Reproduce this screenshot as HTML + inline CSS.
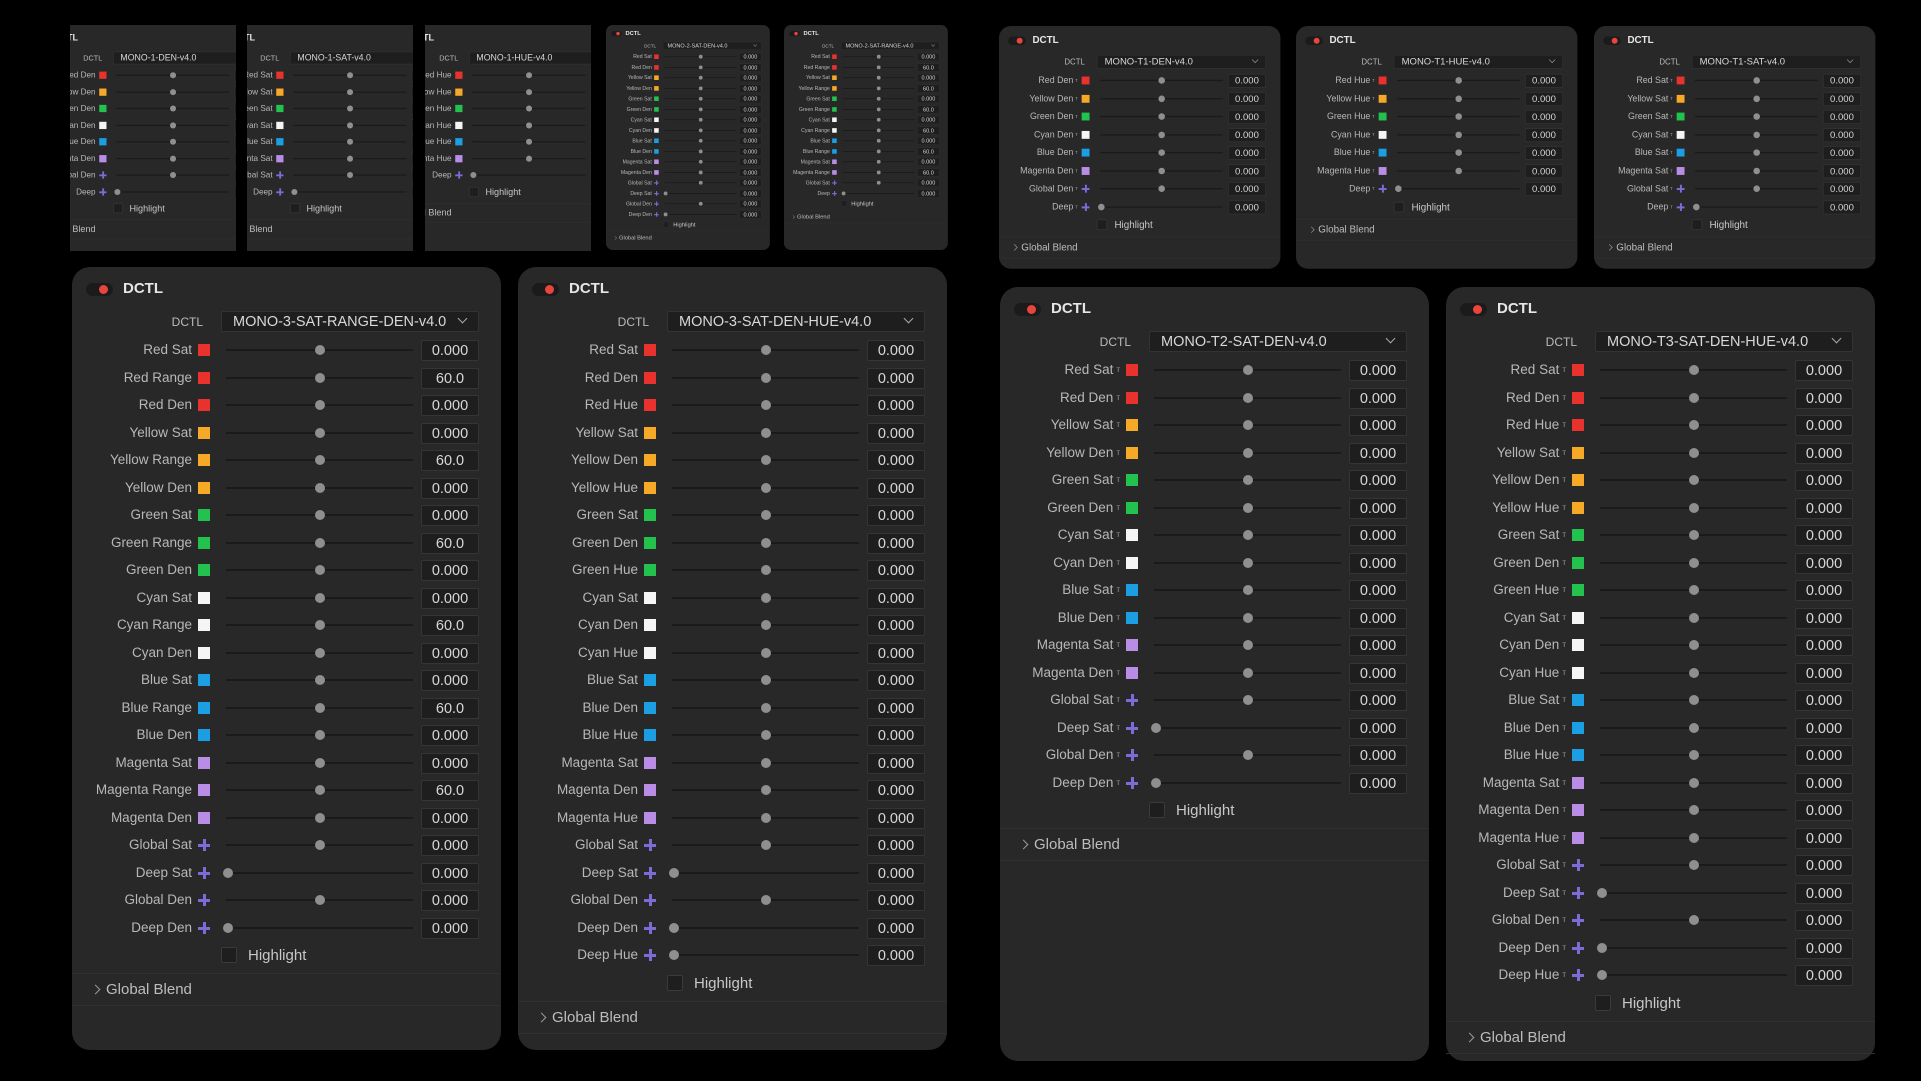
<!DOCTYPE html>
<html><head><meta charset="utf-8">
<style>
html,body{margin:0;padding:0;background:#000;width:1921px;height:1081px;overflow:hidden;}
body{position:relative;font-family:"Liberation Sans","DejaVu Sans",sans-serif;}
.clip{position:absolute;overflow:hidden;}
.p{position:absolute;width:429px;background:#282828;border-radius:18px;transform-origin:0 0;}
.p *{position:absolute;}
.tg{left:14px;top:16px;width:27px;height:13px;border-radius:7px;background:#1b1b1b;}
.tg i{left:13px;top:2px;width:9px;height:9px;border-radius:50%;background:#e8453c;}
.tt{left:51px;top:13px;font-size:15px;font-weight:bold;color:#e6e6e6;}
.dl{right:298px;top:48px;font-size:12px;color:#bbb;}
.dd{left:149px;top:44px;width:258px;height:21px;background:#1e1e1e;border:1px solid #333;box-sizing:border-box;border-radius:2px;}
.dd span{left:11px;top:2px;font-size:14.5px;color:#d8d8d8;white-space:nowrap;}
.dd b{right:12px;top:3px;width:6px;height:6px;border-right:1px solid #aaa;border-bottom:1px solid #aaa;transform:rotate(45deg);}
.lb{right:309px;font-size:13.5px;color:#b8b8b8;white-space:nowrap;text-align:right;}
.lb sup{position:static;font-size:8px;margin-left:3px;color:#999;vertical-align:2px;}
.sw{left:126px;width:12px;height:12px;}
.pl{left:125px;width:14px;height:14px;}
.pl:before{content:"";position:absolute;left:6px;top:1px;width:3px;height:12px;background:#7d6bd8;}
.pl:after{content:"";position:absolute;left:1px;top:6px;width:12px;height:3px;background:#7d6bd8;}
.tr{left:154px;width:187px;height:2px;background:#1a1a1a;}
.kn{width:10px;height:10px;border-radius:50%;background:#8f8f8f;}
.vb{left:349px;width:58px;height:21px;background:#1e1e1e;border:1px solid #353535;box-sizing:border-box;border-radius:2px;font-size:14.5px;color:#d8d8d8;text-align:center;line-height:20px;}
.cb{width:14px;height:14px;background:#1e1e1e;border:1px solid #3a3a3a;border-radius:2px;}
.hl{font-size:15px;color:#c8c8c8;}
.sep{left:0;width:429px;height:1px;background:#303030;}
.gb{left:34px;font-size:15px;color:#bdbdbd;}
.ch{left:20px;width:6px;height:6px;border-right:1px solid #999;border-top:1px solid #999;transform:rotate(45deg);}
</style></head><body>
<div id="root"></div>
<script>
var C={Red:'#e8322e',Yellow:'#f5a927',Green:'#23c24e',Cyan:'#f5f5f5',Blue:'#1b9fe2',Magenta:'#b98ce6',Global:'+',Deep:'+'};
function rows(suf,extra){var r=[];['Red','Yellow','Green','Cyan','Blue','Magenta'].forEach(function(c){suf.forEach(function(s){r.push([c+' '+s,C[c],s=='Range'?'60.0':'0.000',0]);});});return r.concat(extra);}
function g(n,deep){return [n,'+', '0.000',deep?1:0];}
function panel(o){
 var h='<div class="p" style="left:'+o.x+'px;top:'+o.y+'px;height:'+o.h+'px;transform:scale('+o.s+');'+(o.sq?'border-radius:0;':'')+'">';
 h+='<div class="tg"><i></i></div><div class="tt">DCTL</div><div class="dl">DCTL</div><div class="dd"><span>'+o.n+'</span><b></b></div>';
 var pitch=27.5,y0=83;
 o.r.forEach(function(r,i){var cy=y0+i*pitch;
  h+='<div class="lb" style="top:'+(cy-8)+'px">'+r[0]+(o.t?'<sup>т</sup>':'')+'</div>';
  if(r[1]=='+')h+='<div class="pl" style="top:'+(cy-7)+'px"></div>';else h+='<div class="sw" style="top:'+(cy-6)+'px;background:'+r[1]+'"></div>';
  h+='<div class="tr" style="top:'+(cy-1)+'px"></div>';
  h+='<div class="kn" style="left:'+(r[3]?151:243)+'px;top:'+(cy-5)+'px"></div>';
  h+='<div class="vb" style="top:'+(cy-10)+'px">'+r[2]+'</div>';
 });
 var hy=y0+o.r.length*pitch;
 h+='<div class="cb" style="left:149px;top:'+(hy-8)+'px"></div><div class="hl" style="left:176px;top:'+(hy-8)+'px">Highlight</div>';
 h+='<div class="sep" style="top:'+(hy+18)+'px"></div><div class="ch" style="top:'+(hy+31)+'px"></div><div class="gb" style="top:'+(hy+26)+'px">Global Blend</div><div class="sep" style="top:'+(hy+50)+'px"></div>';
 return h+'</div>';
}
var H='';
var I=rows(['Sat','Range','Den'],[g('Global Sat'),g('Deep Sat',1),g('Global Den'),g('Deep Den',1)]);
var J=rows(['Sat','Den','Hue'],[g('Global Sat'),g('Deep Sat',1),g('Global Den'),g('Deep Den',1),g('Deep Hue',1)]);
var K=rows(['Sat','Den'],[g('Global Sat'),g('Deep Sat',1),g('Global Den'),g('Deep Den',1)]);
H+=panel({x:72,y:267,h:783,s:1,n:'MONO-3-SAT-RANGE-DEN-v4.0',r:I});
H+=panel({x:518,y:267,h:783,s:1,n:'MONO-3-SAT-DEN-HUE-v4.0',r:J});
H+=panel({x:1000,y:287,h:774,s:1,n:'MONO-T2-SAT-DEN-v4.0',r:K,t:1});
H+=panel({x:1446,y:287,h:774,s:1,n:'MONO-T3-SAT-DEN-HUE-v4.0',r:J,t:1});
var s1=0.656;
H+=panel({x:999,y:26,h:370,s:s1,n:'MONO-T1-DEN-v4.0',r:rows(['Den'],[g('Global Den'),g('Deep',1)]),t:1});
H+=panel({x:1296,y:26,h:370,s:s1,n:'MONO-T1-HUE-v4.0',r:rows(['Hue'],[g('Deep',1)]),t:1});
H+=panel({x:1594,y:26,h:370,s:s1,n:'MONO-T1-SAT-v4.0',r:rows(['Sat'],[g('Global Sat'),g('Deep',1)]),t:1});
var s2=0.382;
H+=panel({x:606,y:25,h:589,s:s2,n:'MONO-2-SAT-DEN-v4.0',r:K});
H+=panel({x:784,y:25,h:589,s:s2,n:'MONO-2-SAT-RANGE-v4.0',r:rows(['Sat','Range'],[g('Global Sat'),g('Deep',1)])});
var s3=0.605;
function cl(x,px,n,r){return '<div class="clip" style="left:'+x+'px;top:25px;width:166px;height:226px;">'+panel({x:px-x,y:0,h:380,s:s3,n:n,r:r,sq:1})+'</div>';}
H+=cl(70,23,'MONO-1-DEN-v4.0',rows(['Den'],[g('Global Den'),g('Deep',1)]));
H+=cl(247,200,'MONO-1-SAT-v4.0',rows(['Sat'],[g('Global Sat'),g('Deep',1)]));
H+=cl(425,379,'MONO-1-HUE-v4.0',rows(['Hue'],[g('Deep',1)]));
document.getElementById('root').innerHTML=H;
</script>
</body></html>
